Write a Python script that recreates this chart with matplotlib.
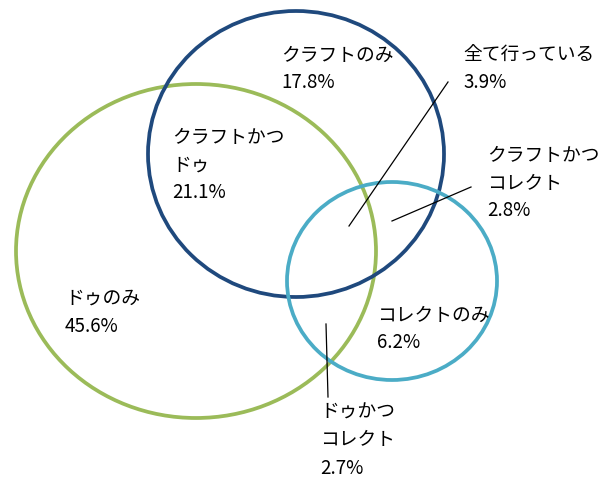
import matplotlib
matplotlib.use("Agg")
import matplotlib.pyplot as plt
from matplotlib.patches import Ellipse

plt.rcParams['font.family'] = ['Noto Sans CJK JP', 'DejaVu Sans']

# Data
sets = ["ドゥ", "クラフト", "コレクト"]
region_labels = [["クラフトのみ"], ["全て行っている"], ["クラフトかつ", "コレクト"],
                 ["クラフトかつ", "ドゥ"], ["ドゥのみ"], ["コレクトのみ"],
                 ["ドゥかつ", "コレクト"]]
region_values = [17.8, 3.9, 2.8, 21.1, 45.6, 6.2, 2.7]

# Layout (pixel coordinates, y downward)
circle_geom = [(196, 251, 360, 334), (296, 154, 296, 286), (392, 281, 210, 198)]
circle_colors = ["#9BBB59", "#1F497D", "#4BACC6"]
label_pos = [(281, 55), (463, 55), (487, 155), (172, 137), (65, 298), (377, 315), (320, 412)]
leaders = [None, ((448, 82), (349, 226)), ((471, 187), (392, 221)), None, None, None,
           ((326, 324), (328, 397))]
line_step = 28

fig = plt.figure(figsize=(6.14, 4.82), dpi=100)
ax = fig.add_axes([0, 0, 1, 1])
ax.set_xlim(0, 614)
ax.set_ylim(482, 0)
ax.axis('off')

for (cx, cy, w, h), col in zip(circle_geom, circle_colors):
    ax.add_patch(Ellipse((cx, cy), w, h, fill=False, edgecolor=col, linewidth=2.7))

for lead in leaders:
    if lead:
        (x0, y0), (x1, y1) = lead
        ax.plot([x0, x1], [y0, y1], color='black', linewidth=0.9)

for lines, val, (x, y) in zip(region_labels, region_values, label_pos):
    all_lines = lines + [f"{val:.1f}%"]
    for i, t in enumerate(all_lines):
        ax.text(x, y + i * line_step, t, fontsize=13.5, ha='left', va='center', color='black')

fig.savefig("out.png", dpi=100)
